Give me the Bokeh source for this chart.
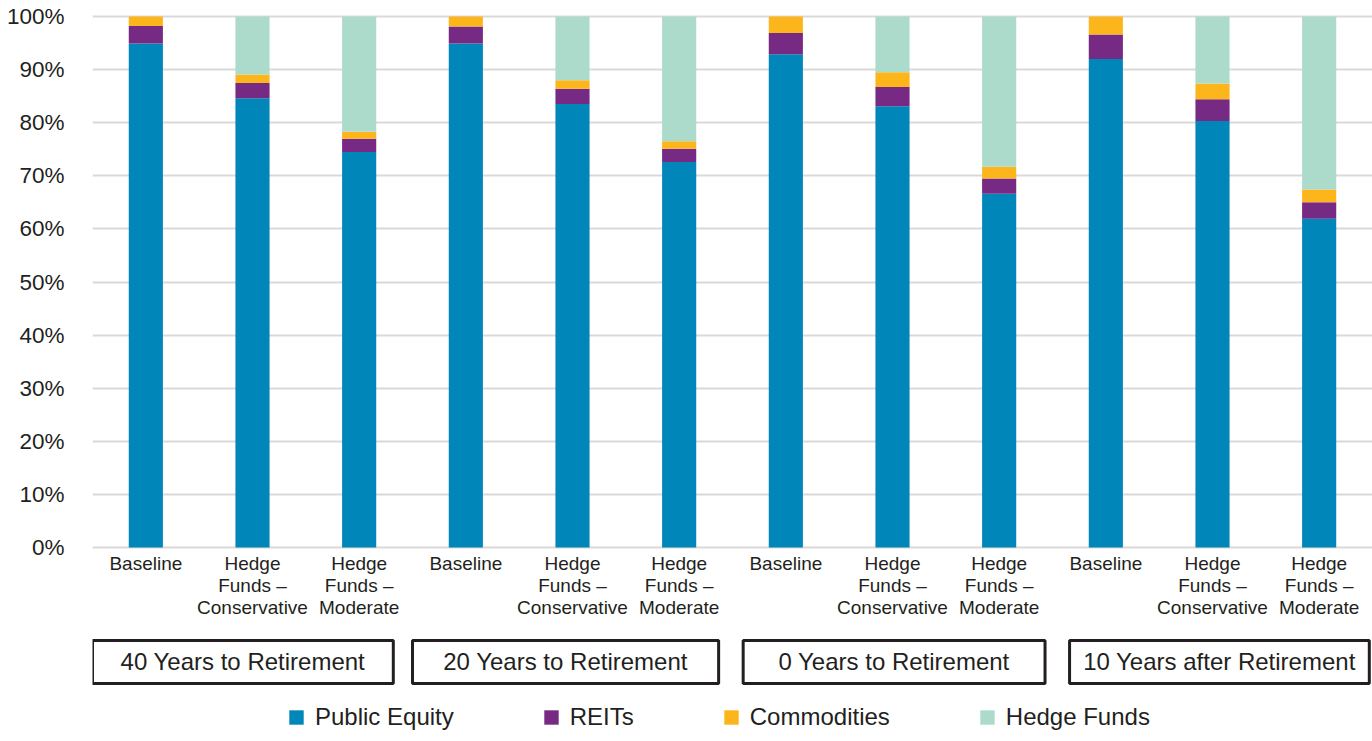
from bokeh.plotting import figure
from bokeh.models import (Range1d, FixedTicker, PrintfTickFormatter, Legend, LegendItem,
                          ColumnDataSource)
from bokeh.core.properties import value
from bokeh.embed import file_html
from bokeh.resources import INLINE

# ---------------- data ----------------
categories = ["Baseline", "Hedge\nFunds \u2013\nConservative", "Hedge\nFunds \u2013\nModerate"] * 4
groups = ["40 Years to Retirement", "20 Years to Retirement",
          "0 Years to Retirement", "10 Years after Retirement"]
public_equity = [94.9, 84.6, 74.5, 94.9, 83.5, 72.6, 92.9, 83.1, 66.6, 92.0, 80.3, 61.9]
reits         = [3.3, 2.9, 2.5, 3.2, 2.9, 2.5, 4.0, 3.6, 2.9, 4.6, 4.1, 3.1]
commodities   = [1.8, 1.6, 1.3, 1.9, 1.6, 1.4, 3.1, 2.8, 2.2, 3.4, 3.0, 2.4]
hedge_funds   = [0.0, 10.9, 21.7, 0.0, 12.0, 23.5, 0.0, 10.5, 28.3, 0.0, 12.6, 32.6]
series = ["Public Equity", "REITs", "Commodities", "Hedge Funds"]
y_ticks = [0, 10, 20, 30, 40, 50, 60, 70, 80, 90, 100]

# ---------------- style / layout ----------------
colors = ["#0086b8", "#772a83", "#fdb51c", "#acdbcb"]
FONT = "Liberation Sans"
TXT = "#231f20"
W, H = 1372, 741
TOP, ZERO_PX = 11, 547
PX_PER = 5.31
y_end = (ZERO_PX - TOP) / PX_PER
y_start = -(H - ZERO_PX) / PX_PER

src = ColumnDataSource(dict(
    x=[i + 0.5 for i in range(len(categories))],
    label=categories,
    **{"Public Equity": public_equity, "REITs": reits,
       "Commodities": commodities, "Hedge Funds": hedge_funds}))

p = figure(width=W, height=H, output_backend="svg", toolbar_location=None,
           x_range=Range1d(0, len(categories)), y_range=Range1d(y_start, y_end),
           min_border_left=92, min_border_right=0, min_border_top=TOP, min_border_bottom=0)
p.outline_line_color = None
p.background_fill_color = "white"
p.border_fill_color = "white"

renderers = p.vbar_stack(series, x="x", width=0.32, source=src, color=colors, line_color=None)

# axes & grid
p.xaxis.visible = False
p.xgrid.visible = False
ya = p.yaxis[0]
ya.ticker = FixedTicker(ticks=y_ticks)
ya.formatter = PrintfTickFormatter(format="%d%%")
ya.axis_line_color = None
ya.major_tick_line_color = None
ya.minor_tick_line_color = None
ya.major_label_standoff = 22
ya.major_label_text_font = FONT
ya.major_label_text_font_size = "22.5px"
ya.major_label_text_color = TXT
p.ygrid.ticker = FixedTicker(ticks=y_ticks)
p.ygrid.grid_line_color = "#d9d9d9"
p.ygrid.grid_line_width = 2

# category labels
p.text(x="x", y=0, text="label", source=src, y_offset=5, text_align="center",
       text_baseline="top", text_font=value(FONT), text_font_size="19px",
       text_color=TXT, text_line_height=1.07)

# group boxes
box_left = [0.0, 3.0, 6.1, 9.16]
box_right = [2.82, 5.87, 8.93, 11.97]
box_top_px, box_bot_px = 640, 683
bt = (ZERO_PX - box_top_px) / PX_PER
bb = (ZERO_PX - box_bot_px) / PX_PER
p.quad(left=box_left, right=box_right, top=[bt] * 4, bottom=[bb] * 4,
       fill_color=None, line_color=TXT, line_width=3)
p.text(x=[(a + b) / 2 for a, b in zip(box_left, box_right)], y=[(bt + bb) / 2] * 4,
       text=groups, text_align="center", text_baseline="middle", y_offset=-1,
       text_font=value(FONT), text_font_size="24px", text_color=TXT)

# legend
legend = Legend(items=[LegendItem(label=s, renderers=[r]) for s, r in zip(series, renderers)],
                orientation="horizontal", location=(195, 10))
legend.padding = 0
legend.margin = 0
legend.spacing = 88
legend.glyph_width = 18
legend.glyph_height = 18
legend.label_standoff = 10
legend.label_text_font = FONT
legend.label_text_font_size = "24px"
legend.label_text_color = TXT
legend.border_line_color = None
legend.background_fill_alpha = 0
p.add_layout(legend, "center")

open("out.html", "w").write(file_html(p, INLINE))
